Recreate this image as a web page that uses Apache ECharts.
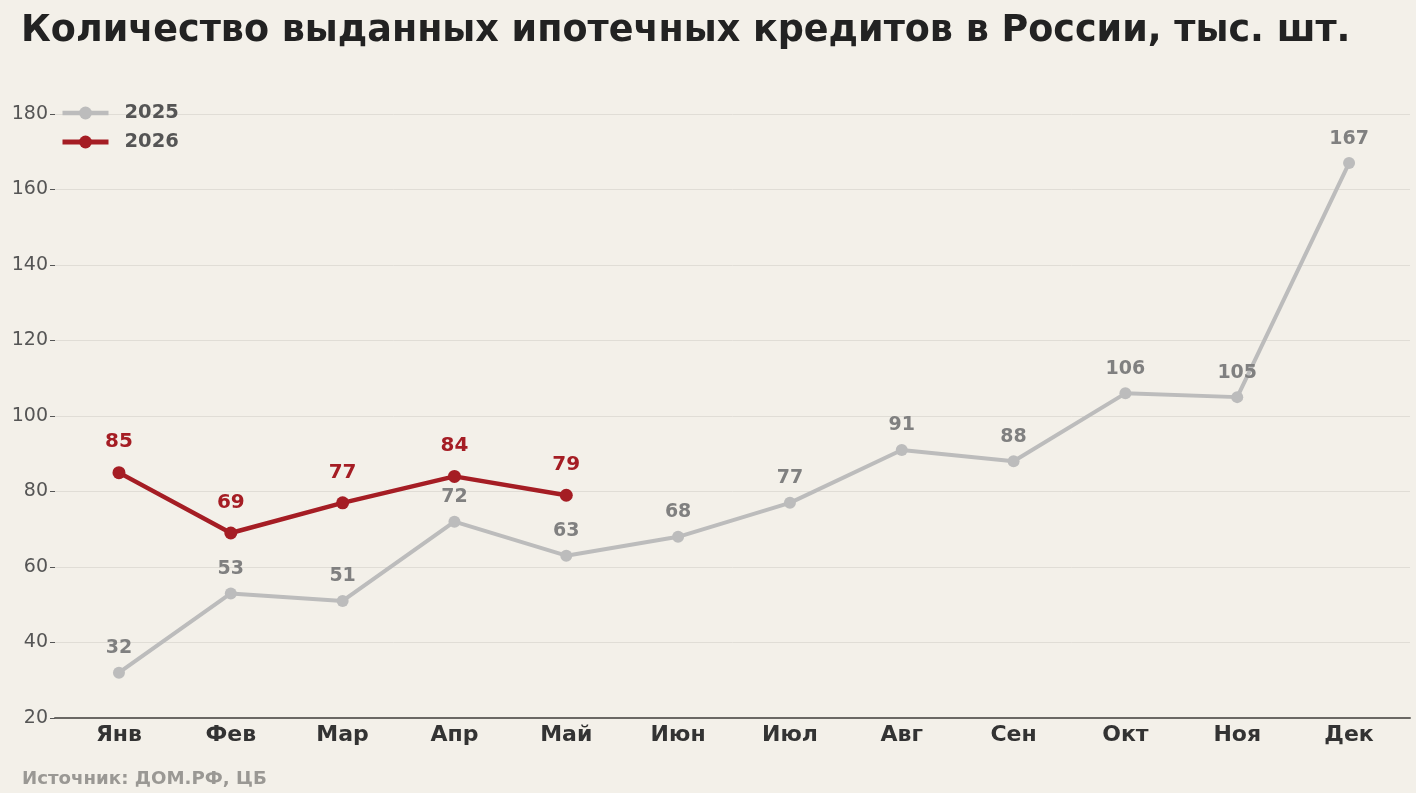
<!DOCTYPE html>
<html><head><meta charset="utf-8">
<script src="https://cdn.jsdelivr.net/npm/echarts@6/dist/echarts.min.js"></script>
<style>html,body{margin:0;padding:0;background:#f3f0e9;}#c{width:1416px;height:793px;}</style>
</head><body><div id="c"></div>
<script>
const categories = ['Янв','Фев','Мар','Апр','Май','Июн','Июл','Авг','Сен','Окт','Ноя','Дек'];
const values2025 = [32, 53, 51, 72, 63, 68, 77, 91, 88, 106, 105, 167];
const values2026 = [85, 69, 77, 84, 79];
const yTicks = [20, 40, 60, 80, 100, 120, 140, 160, 180];
const titleText = 'Количество выданных ипотечных кредитов в России, тыс. шт.';
const sourceText = 'Источник: ДОМ.РФ, ЦБ';

const FONT = "'DejaVu Sans', sans-serif";
const chart = echarts.init(document.getElementById('c'));
const toPairs = arr => arr.map((v, i) => [i, v]);
chart.setOption({
  backgroundColor: '#f3f0e9',
  textStyle: { fontFamily: FONT },
  title: [
    { text: titleText, left: 16, top: 8,
      textStyle: { fontFamily: FONT, fontSize: 36.5, fontWeight: 'bold', color: '#222' } },
    { text: sourceText, left: 17, top: 765,
      textStyle: { fontFamily: FONT, fontSize: 18.2, fontWeight: 'bold', color: '#9a9894' } }
  ],
  legend: {
    orient: 'vertical', left: 60, top: 103, padding: 0, itemWidth: 46, itemHeight: 16, itemGap: 9,
    textStyle: { fontFamily: FONT, fontSize: 19.5, fontWeight: 'bold', color: '#555', padding: [0, 0, 0, 11] },
    data: [
      { name: '2025', lineStyle: { width: 4.5 } },
      { name: '2026', lineStyle: { width: 5 } }
    ]
  },
  grid: { left: 55, right: 6, top: 114, bottom: 75, containLabel: false },
  xAxis: {
    type: 'value', min: -0.572, max: 11.545,
    axisLine: { show: true, onZero: false, lineStyle: { color: '#6a6864', width: 2 } },
    axisTick: { show: false },
    splitLine: { show: false },
    axisLabel: {
      customValues: categories.map((c, i) => i),
      formatter: v => categories[Math.round(v)] || '',
      fontFamily: FONT, fontSize: 22, fontWeight: 'bold', color: '#333', margin: 6
    }
  },
  yAxis: {
    type: 'value', min: yTicks[0], max: yTicks[yTicks.length - 1], interval: 20,
    axisLine: { show: false, onZero: false },
    axisTick: { show: true, length: 5, lineStyle: { color: '#555', width: 1 } },
    splitLine: { lineStyle: { color: '#e0ddd6', width: 1 } },
    axisLabel: { fontFamily: FONT, fontSize: 19, color: '#555', margin: 7 }
  },
  series: [
    {
      name: '2025', type: 'line', data: toPairs(values2025),
      symbol: 'circle', symbolSize: 12,
      lineStyle: { color: '#bcbcbc', width: 4 },
      itemStyle: { color: '#bcbcbc' },
      label: { show: true, position: 'top', distance: 9, formatter: p => p.value[1],
        fontFamily: FONT, fontSize: 19, fontWeight: 'bold', color: '#808080' },
      z: 2
    },
    {
      name: '2026', type: 'line', data: toPairs(values2026),
      symbol: 'circle', symbolSize: 13,
      lineStyle: { color: '#a51d24', width: 4.5 },
      itemStyle: { color: '#a51d24' },
      label: { show: true, position: 'top', distance: 14, formatter: p => p.value[1],
        fontFamily: FONT, fontSize: 20, fontWeight: 'bold', color: '#a51d24' },
      z: 3
    }
  ]
});
</script></body></html>
